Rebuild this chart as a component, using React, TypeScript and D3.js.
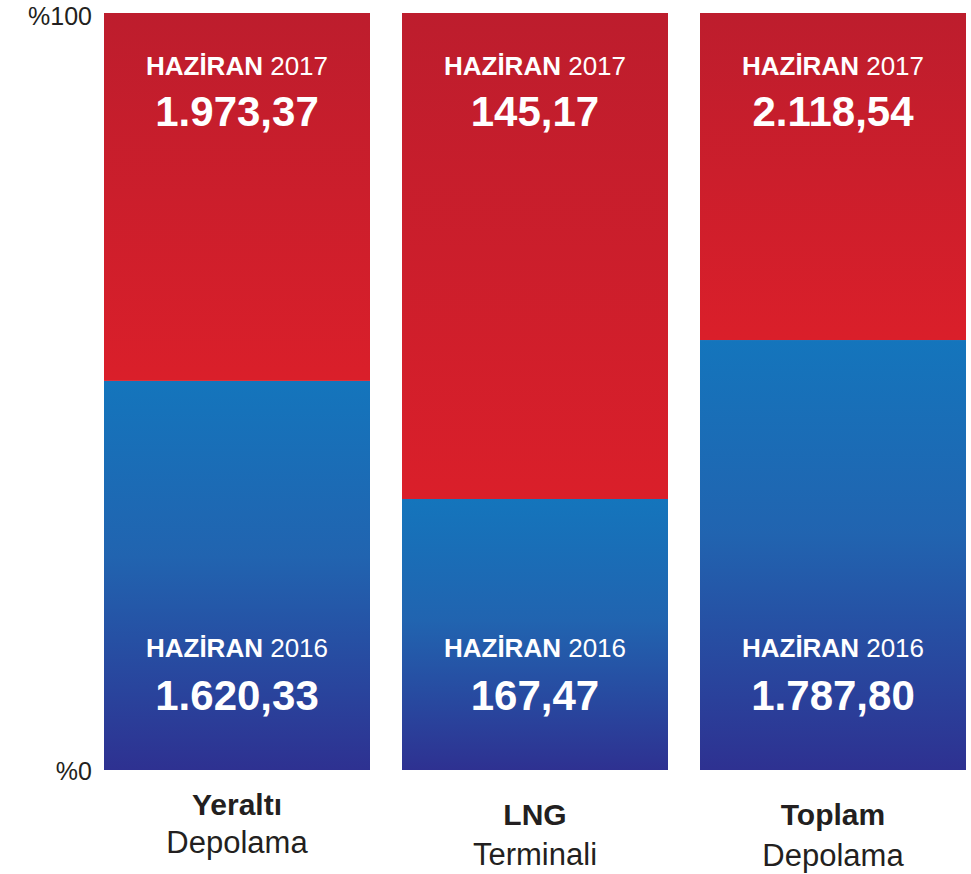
import React from "react";
import * as d3 from "d3";

const categories = ["Yeralti", "LNG", "Toplam"];
const categoryBold = ["Yeraltı", "LNG", "Toplam"];
const categorySub = ["Depolama", "Terminali", "Depolama"];
const values2016 = [1620.33, 167.47, 1787.8];
const values2017 = [1973.37, 145.17, 2118.54];
// share of bar height (in %) occupied by the 2016 segment
const share2016 = [51.4, 35.8, 56.8];
const yTicks = [0, 100];
const labelWord = "HAZİRAN";
const years = ["2016", "2017"];

const W = 971;
const H = 874;

const trLocale = d3.formatLocale({
  decimal: ",",
  thousands: ".",
  grouping: [3],
  currency: ["", ""],
});
const fmt = trLocale.format(",.2f");

export default function App() {
  const x = d3
    .scaleBand<string>()
    .domain(categories)
    .range([104, 966])
    .paddingInner(32 / 298)
    .paddingOuter(0);
  const y = d3.scaleLinear().domain([0, 100]).range([770, 13]);
  const bw = x.bandwidth();
  const font = "'Liberation Sans', Arial, Helvetica, sans-serif";
  const subY = [[815, 853], [825, 865], [825, 866]];

  return (
    <svg
      width={W}
      height={H}
      style={{ position: "absolute", left: 0, top: 0 }}
      fontFamily={font}
    >
      <defs>
        <linearGradient id="gRed" x1="0" y1="0" x2="0" y2="1">
          <stop offset="0%" stopColor="#bd1d2d" />
          <stop offset="100%" stopColor="#da1f2a" />
        </linearGradient>
        <linearGradient id="gBlue" x1="0" y1="0" x2="0" y2="1">
          <stop offset="0%" stopColor="#1475bc" />
          <stop offset="45%" stopColor="#2164b0" />
          <stop offset="100%" stopColor="#2e3191" />
        </linearGradient>
      </defs>
      {yTicks.map((t) => (
        <text
          key={t}
          x={92}
          y={y(t) + (t === 100 ? 12 : 10)}
          textAnchor="end"
          fontSize={25}
          fill="#231f20"
        >
          %{t}
        </text>
      ))}
      {categories.map((c, i) => {
        const x0 = x(c)!;
        const cx = x0 + bw / 2;
        const yb = y(share2016[i]);
        return (
          <g key={c}>
            <rect x={x0} y={yb} width={bw} height={y(0) - yb} fill="url(#gBlue)" />
            <rect x={x0} y={y(100)} width={bw} height={yb - y(100)} fill="url(#gRed)" />
            <text x={cx} y={y(100) + 62} textAnchor="middle" fontSize={26} fill="#fff">
              <tspan fontWeight="bold">{labelWord}</tspan>
              <tspan> {years[1]}</tspan>
            </text>
            <text x={cx} y={y(100) + 113} textAnchor="middle" fontSize={42} fontWeight="bold" fill="#fff">
              {fmt(values2017[i])}
            </text>
            <text x={cx} y={y(0) - 113} textAnchor="middle" fontSize={26} fill="#fff">
              <tspan fontWeight="bold">{labelWord}</tspan>
              <tspan> {years[0]}</tspan>
            </text>
            <text x={cx} y={y(0) - 60} textAnchor="middle" fontSize={42} fontWeight="bold" fill="#fff">
              {fmt(values2016[i])}
            </text>
            <text x={cx} y={subY[i][0]} textAnchor="middle" fontSize={30} fontWeight="bold" fill="#231f20">
              {categoryBold[i]}
            </text>
            <text x={cx} y={subY[i][1]} textAnchor="middle" fontSize={31} fill="#231f20">
              {categorySub[i]}
            </text>
          </g>
        );
      })}
    </svg>
  );
}
